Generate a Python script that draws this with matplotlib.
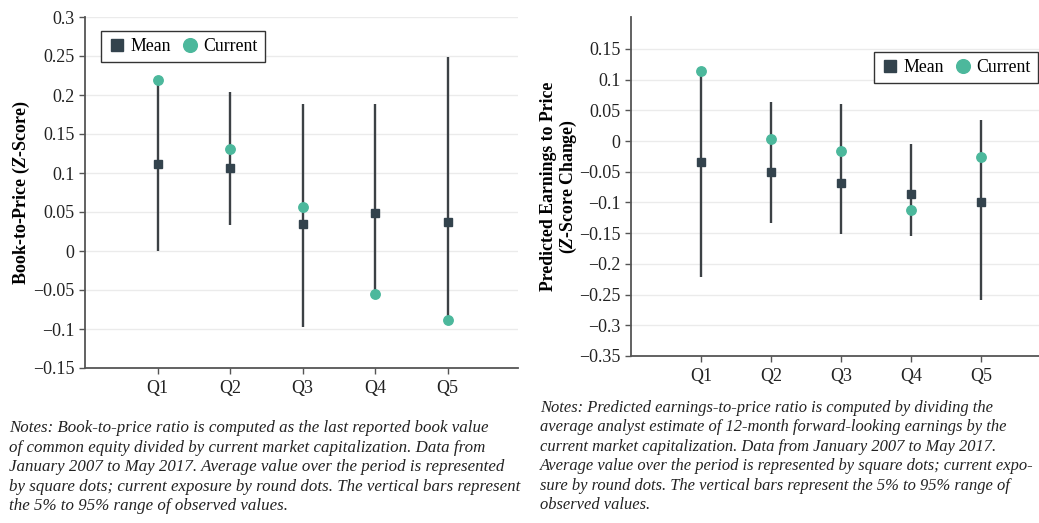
import matplotlib as mpl
import matplotlib.pyplot as plt
from matplotlib.ticker import FuncFormatter

mpl.use("Agg")

PALETTE = {
    "mean": "#33434d",
    "current": "#4cb89c",
    "bar": "#3c4145",
    "grid": "#ebebeb",
    "spine": "#555555",
    "text": "#222222",
}

quintiles = ["Q1", "Q2", "Q3", "Q4", "Q5"]

# Left panel: book-to-price
bp_mean = [0.111, 0.107, 0.034, 0.049, 0.037]
bp_current = [0.219, 0.131, 0.056, -0.055, -0.088]
bp_low = [0.0, 0.033, -0.098, -0.055, -0.088]
bp_high = [0.219, 0.204, 0.188, 0.188, 0.249]
bp_ticks = [-0.15, -0.1, -0.05, 0, 0.05, 0.1, 0.15, 0.2, 0.25, 0.3]

# Right panel: predicted earnings-to-price
ep_mean = [-0.034, -0.051, -0.069, -0.086, -0.100]
ep_current = [0.114, 0.004, -0.017, -0.112, -0.026]
ep_low = [-0.221, -0.134, -0.151, -0.155, -0.258]
ep_high = [0.114, 0.064, 0.061, -0.005, 0.034]
ep_ticks = [-0.35, -0.3, -0.25, -0.2, -0.15, -0.1, -0.05, 0, 0.05, 0.1, 0.15]

left_note = (
    "Notes: Book-to-price ratio is computed as the last reported book value\n"
    "of common equity divided by current market capitalization. Data from\n"
    "January 2007 to May 2017. Average value over the period is represented\n"
    "by square dots; current exposure by round dots. The vertical bars represent\n"
    "the 5% to 95% range of observed values."
)
right_note = (
    "Notes: Predicted earnings-to-price ratio is computed by dividing the\n"
    "average analyst estimate of 12-month forward-looking earnings by the\n"
    "current market capitalization. Data from January 2007 to May 2017.\n"
    "Average value over the period is represented by square dots; current expo-\n"
    "sure by round dots. The vertical bars represent the 5% to 95% range of\n"
    "observed values."
)

mpl.rcParams.update(
    {
        "font.family": "serif",
        "font.serif": ["Liberation Serif", "DejaVu Serif"],
        "mathtext.fontset": "custom",
        "mathtext.rm": "Liberation Serif:bold",
        "mathtext.it": "Liberation Serif:bold:italic",
        "font.size": 13,
        "axes.spines.right": False,
        "axes.spines.top": False,
    }
)


def fmt(v, _pos):
    s = f"{v:g}"
    return s.replace("-", "\u2212")


def draw_panel(ax, mean, current, low, high, ticks, ylim, xlim):
    x = list(range(1, len(quintiles) + 1))
    ax.vlines(x, low, high, color=PALETTE["bar"], linewidth=1.7, zorder=2)
    ax.plot(x, mean, ls="none", marker="s", ms=5.5, color=PALETTE["mean"], label="Mean", zorder=3)
    ax.plot(x, current, ls="none", marker="o", ms=6.8, color=PALETTE["current"], label="Current", zorder=4)
    ax.set_xlim(*xlim)
    ax.set_ylim(*ylim)
    ax.set_xticks(x, quintiles)
    ax.set_yticks(ticks)
    ax.yaxis.set_major_formatter(FuncFormatter(fmt))
    ax.grid(axis="y", color=PALETTE["grid"], linewidth=1.0)
    ax.set_axisbelow(True)
    for side in ("left", "bottom"):
        ax.spines[side].set_color(PALETTE["spine"])
        ax.spines[side].set_linewidth(1.3)
    ax.tick_params(axis="both", colors=PALETTE["spine"], labelcolor=PALETTE["text"],
                   labelsize=13, length=4, width=1.0)
    ax.tick_params(axis="x", pad=5)


fig = plt.figure(figsize=(10.39, 5.23), dpi=100)

legend_kw = dict(ncols=2, frameon=True, fancybox=False, edgecolor="#333333",
                 handletextpad=0.25, columnspacing=0.6, borderpad=0.4, borderaxespad=0,
                 handlelength=1.0, markerscale=1.45, fontsize=12.8, framealpha=1)

ax_l = fig.add_axes([85 / 1039, 1 - 368 / 523, 433 / 1039, 351 / 523])
draw_panel(ax_l, bp_mean, bp_current, bp_low, bp_high, bp_ticks, (-0.15, 0.3), (0, 5.97))
ax_l.set_ylabel("Book-to-Price ($Z$-Score)", fontweight="bold", fontsize=13)
ax_l.yaxis.set_label_coords(-0.123, 0.5)
leg = ax_l.legend(loc="upper left", bbox_to_anchor=(0.037, 0.96), **legend_kw)
leg.get_frame().set_linewidth(1.0)

ax_r = fig.add_axes([631 / 1039, 1 - 356 / 523, 408 / 1039, 339 / 523])
draw_panel(ax_r, ep_mean, ep_current, ep_low, ep_high, ep_ticks, (-0.35, 0.202), (0, 5.83))
ax_r.set_ylabel("Predicted Earnings to Price\n($Z$-Score Change)", fontweight="bold", fontsize=12.8,
                linespacing=1.05)
ax_r.yaxis.set_label_coords(-0.128, 0.5)
leg = ax_r.legend(loc="upper right", bbox_to_anchor=(0.9975, 0.897), **legend_kw)
leg.get_frame().set_linewidth(1.0)

fig.text(9 / 1039, 1 - 420 / 523, left_note, ha="left", va="top", style="italic",
         fontsize=12.2, color=PALETTE["text"], linespacing=1.3)
fig.text(540 / 1039, 1 - 400 / 523, right_note, ha="left", va="top", style="italic",
         fontsize=11.9, color=PALETTE["text"], linespacing=1.29)

fig.savefig("out.png", dpi=100)
